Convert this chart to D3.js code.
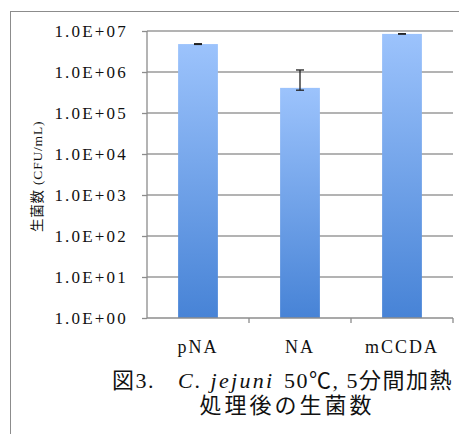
<!DOCTYPE html>
<html>
<head>
<meta charset="utf-8">
<style>
  body { margin: 0; background: #fff; }
  svg { display: block; }
  .tick text { font-family: "Liberation Serif", serif; }
</style>
</head>
<body>
<div class="container"></div>
<script src="https://d3js.org/d3.v7.min.js"></script>
<script>
var categories = ['pNA', 'NA', 'mCCDA'];
var counts = [4.8e6, 4.1e5, 8.5e6];
var errHigh = [4.9e6, 1.12e6, 8.6e6];
var errLow = [4.7e6, 3.6e5, 8.4e6];
var yTicks = [1, 10, 100, 1e3, 1e4, 1e5, 1e6, 1e7];

var W = 459, H = 434;
var plot = { left: 147, right: 453, top: 31, bottom: 318 };
var CJK = '"Noto Sans CJK JP", sans-serif';
var MIXED = '"Liberation Serif", "Noto Sans CJK JP", serif';

var svg = d3.select('.container')
            .append('svg')
            .attr('width', W)
            .attr('height', H);

// outer frame (runs off the right and bottom edge)
svg.append('rect')
   .attr('x', 10.5).attr('y', 11.5)
   .attr('width', 470).attr('height', 440)
   .attr('fill', 'none')
   .attr('stroke', '#8c8c8c')
   .attr('stroke-width', 1);

var grad = svg.append('defs').append('linearGradient')
              .attr('id', 'barfill')
              .attr('x1', 0).attr('y1', 0).attr('x2', 0).attr('y2', 1);
grad.append('stop').attr('offset', '0%').attr('stop-color', '#9cc3fc');
grad.append('stop').attr('offset', '100%').attr('stop-color', '#4783d6');

var x = d3.scaleBand()
          .domain(categories)
          .range([plot.left, plot.right])
          .paddingInner(0.61)
          .paddingOuter(0.305);

var y = d3.scaleLog()
          .domain([1, 1e7])
          .range([plot.bottom, plot.top]);

// gridlines
svg.append('g')
   .selectAll('line')
   .data(yTicks.slice(1))
   .join('line')
   .attr('x1', plot.left).attr('x2', plot.right)
   .attr('y1', d => y(d)).attr('y2', d => y(d))
   .attr('stroke', '#9a9a9a')
   .attr('stroke-width', 1.3);

// bars
svg.append('g')
   .selectAll('rect')
   .data(categories)
   .join('rect')
   .attr('x', d => x(d))
   .attr('width', x.bandwidth())
   .attr('y', (d, i) => y(counts[i]))
   .attr('height', (d, i) => plot.bottom - y(counts[i]))
   .attr('fill', 'url(#barfill)');

// error bars
var eb = svg.append('g').attr('stroke', '#222').attr('stroke-width', 1.3);
categories.forEach(function (c, i) {
    var cx = x(c) + x.bandwidth() / 2;
    eb.append('line').attr('x1', cx).attr('x2', cx)
      .attr('y1', y(errLow[i])).attr('y2', y(errHigh[i]));
    [errLow[i], errHigh[i]].forEach(function (v) {
        eb.append('line').attr('x1', cx - 4).attr('x2', cx + 4)
          .attr('y1', y(v)).attr('y2', y(v));
    });
});

// y axis
var yAxis = d3.axisLeft(y)
              .tickValues(yTicks)
              .tickSize(5)
              .tickPadding(14)
              .tickFormat(d => '1.0E+' + String(Math.round(Math.log10(d))).padStart(2, '0'));
var ya = svg.append('g')
            .attr('transform', 'translate(' + plot.left + ',0)')
            .call(yAxis);
ya.selectAll('path, line').attr('stroke', '#8c8c8c').attr('stroke-width', 1.3);
ya.select('.domain').attr('d', 'M0,' + plot.top + 'V' + plot.bottom);
ya.selectAll('text')
  .attr('font-size', 17)
  .attr('letter-spacing', 2.2)
  .attr('fill', '#111');

// x axis
var xAxis = d3.axisBottom(x).tickSize(0).tickPadding(22);
var xa = svg.append('g')
            .attr('transform', 'translate(0,' + plot.bottom + ')')
            .call(xAxis);
xa.select('.domain').attr('d', 'M' + plot.left + ',0H' + plot.right)
  .attr('stroke', '#8c8c8c').attr('stroke-width', 1.3);
xa.selectAll('text').attr('font-size', 18).attr('letter-spacing', 2).attr('fill', '#111');
// category separators
xa.append('g').selectAll('line')
  .data(categories)
  .join('line')
  .attr('x1', d => x(d) + x.bandwidth() / 2 + x.step() / 2)
  .attr('x2', d => x(d) + x.bandwidth() / 2 + x.step() / 2)
  .attr('y1', 0).attr('y2', 5)
  .attr('stroke', '#8c8c8c').attr('stroke-width', 1.3);

// y axis title
svg.append('text')
   .attr('transform', 'translate(42,232) rotate(-90)')
   .attr('text-anchor', 'start')
   .attr('font-size', 13.5)
   .style('font-family', MIXED)
   .attr('letter-spacing', 0.8)
   .attr('fill', '#111')
   .text('生菌数 (CFU/mL)');

// caption, line 1 in three pieces
function capText(px, str, italic, ls) {
    return svg.append('text')
              .attr('x', px).attr('y', 388)
              .attr('font-size', 22)
              .attr('letter-spacing', ls)
              .style('font-family', MIXED)
              .style('font-style', italic ? 'italic' : 'normal')
              .attr('fill', '#111')
              .text(str);
}
capText(112, '図3.', false, 1.5);
capText(178, 'C. jejuni', true, 2.3);
capText(284, '50℃, 5分間加熱', false, 1.5);

// caption, line 2
svg.append('text')
   .attr('x', 287).attr('y', 413)
   .attr('text-anchor', 'middle')
   .attr('font-size', 22)
   .attr('letter-spacing', 3)
   .style('font-family', CJK)
   .attr('fill', '#111')
   .text('処理後の生菌数');
</script>
</body>
</html>
